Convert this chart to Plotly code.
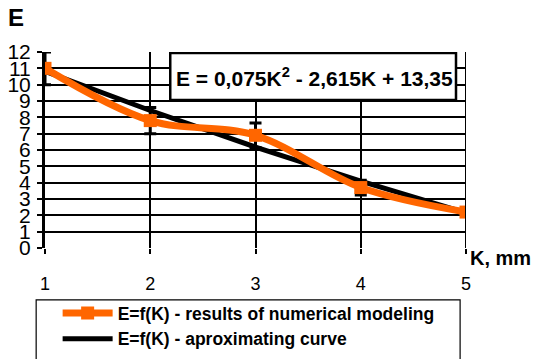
import plotly.graph_objects as go

K = [1, 2, 3, 4, 5]
E_model = [11.0, 7.8, 6.9, 3.7, 2.2]
E_err = [1.0, 0.8, 0.75, 0.45, 0.2]
E_fit = [10.81, 8.42, 6.18, 4.09, 2.15]
y_ticks = list(range(0, 13))
x_ticks = [1, 2, 3, 4, 5]

FONT = "Arial, Liberation Sans, sans-serif"

fig = go.Figure()
fig.add_trace(go.Scatter(
    x=K, y=E_fit, mode="lines",
    line=dict(color="black", width=5),
    name="<b>E=f(K) - aproximating curve</b>",
    legendrank=2,
))
fig.add_trace(go.Scatter(
    x=K, y=E_model, mode="lines+markers",
    line=dict(color="#FF6600", width=7, shape="spline"),
    marker=dict(symbol="square", size=13, color="#FF6600"),
    error_y=dict(type="data", array=E_err, visible=True, color="black",
                 thickness=3, width=6),
    name="<b>E=f(K) - results of numerical modeling</b>",
    legendrank=1,
))

fig.update_layout(
    width=548, height=359,
    margin=dict(l=45, r=82, t=52, b=111, autoexpand=False),
    paper_bgcolor="white", plot_bgcolor="white",
    font=dict(family=FONT, color="black"),
    showlegend=True,
    legend=dict(
        x=0.03, y=-0.24, xanchor="left", yanchor="top",
        bgcolor="rgba(0,0,0,0)", borderwidth=0,
        font=dict(size=17.5, family=FONT),
        itemwidth=50,
        tracegroupgap=0,
    ),
    xaxis=dict(
        range=[1, 5], tickmode="array", tickvals=x_ticks,
        showgrid=True, gridcolor="black", gridwidth=1.5,
        zeroline=False, showline=False, automargin=False,
        ticks="outside", ticklen=5, tickwidth=2, tickcolor="black",
        tickfont=dict(size=18), ticklabelstandoff=14,
    ),
    yaxis=dict(
        range=[0, 12], tickmode="array", tickvals=y_ticks,
        showgrid=True, gridcolor="black", gridwidth=2,
        zeroline=False, showline=True, linecolor="black", linewidth=3,
        automargin=False,
        ticks="outside", ticklen=5, tickwidth=2, tickcolor="black",
        tickfont=dict(size=21), ticklabelstandoff=2,
    ),
    shapes=[
        dict(type="line", xref="x", yref="y", x0=5, x1=5, y0=0, y1=12,
             line=dict(color="black", width=2)),
        dict(type="rect", xref="x", yref="y", x0=2.19, x1=4.905, y0=9.06, y1=11.94,
             fillcolor="white", line=dict(color="black", width=2.5), layer="above"),
        dict(type="rect", xref="paper", yref="paper", x0=-0.021, x1=0.986,
             y0=-0.7, y1=-0.265, fillcolor="rgba(0,0,0,0)",
             line=dict(color="black", width=1.2), layer="above"),
    ],
    annotations=[
        dict(xref="x", yref="y", x=3.556, y=10.47,
             text="<b>E = 0,075K<sup>2</sup> - 2,615K + 13,35</b>",
             showarrow=False, font=dict(size=21, family=FONT)),
        dict(xref="paper", yref="paper", x=(6 - 45) / 421, y=1 + (52 - 18) / 196,
             xanchor="left", yanchor="middle", text="<b>E</b>", showarrow=False,
             font=dict(size=24, family=FONT)),
        dict(xref="paper", yref="paper", x=(468 - 45) / 421, y=-(258 - 248) / 196,
             xanchor="left", yanchor="middle", text="<b>K, mm</b>", showarrow=False,
             font=dict(size=20, family=FONT)),
    ],
)

fig.write_html("out.html", config={"displayModeBar": False},
               post_script="document.body.style.margin='0px';document.body.style.overflow='hidden';")
